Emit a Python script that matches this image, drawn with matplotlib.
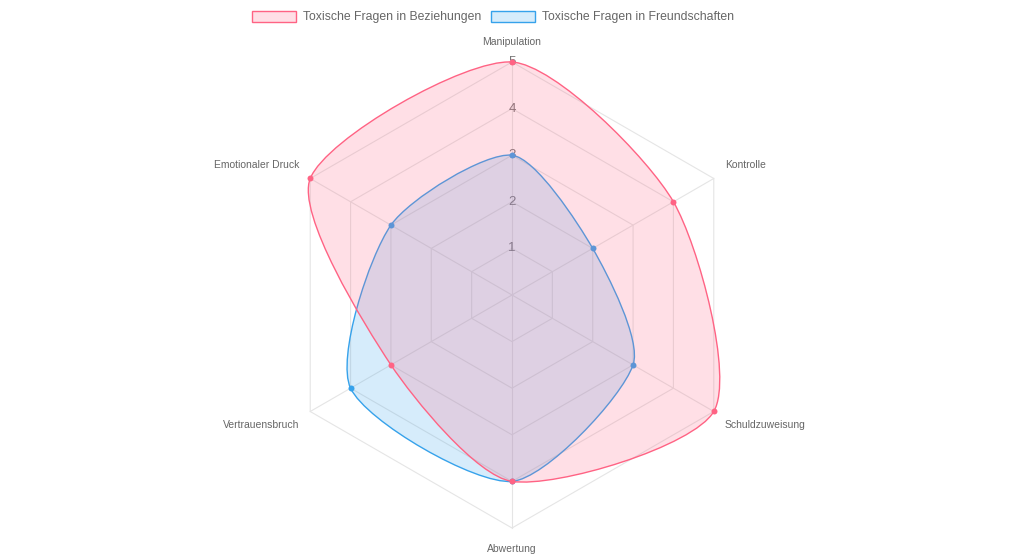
import numpy as np
import matplotlib
matplotlib.use("Agg")
import matplotlib.pyplot as plt
from matplotlib.path import Path
from matplotlib.patches import PathPatch, Patch

plt.rcParams['font.family'] = ['Liberation Sans', 'DejaVu Sans']

categories = ["Manipulation", "Kontrolle", "Schuldzuweisung", "Abwertung",
              "Vertrauensbruch", "Emotionaler Druck"]
beziehungen = [5, 4, 5, 4, 3, 5]
freundschaften = [3, 2, 3, 4, 4, 3]
ticks = [1, 2, 3, 4, 5]
series_names = ["Toxische Fragen in Beziehungen", "Toxische Fragen in Freundschaften"]

RED = (255/255, 99/255, 132/255)
BLUE = (54/255, 162/255, 235/255)
TEXT = "#666666"
GRID = "#e5e5e5"

n = len(categories)
angles = np.arange(n) * 2 * np.pi / n  # clockwise from top


def to_xy(vals):
    vals = np.asarray(vals, dtype=float)
    return np.column_stack([vals * np.sin(angles), vals * np.cos(angles)])


def spline_path(pts, t=0.25):
    # Chart.js style splineCurve on a closed loop
    m = len(pts)
    cp_prev, cp_next = [], []
    for i in range(m):
        p0, p1, p2 = pts[i - 1], pts[i], pts[(i + 1) % m]
        d01 = np.hypot(*(p1 - p0))
        d12 = np.hypot(*(p2 - p1))
        s01 = d01 / (d01 + d12)
        s12 = d12 / (d01 + d12)
        cp_prev.append(p1 - t * s01 * (p2 - p0))
        cp_next.append(p1 + t * s12 * (p2 - p0))
    verts = [pts[0]]
    codes = [Path.MOVETO]
    for i in range(m):
        j = (i + 1) % m
        verts += [cp_next[i], cp_prev[j], pts[j]]
        codes += [Path.CURVE4] * 3
    return Path(verts, codes)


fig = plt.figure(figsize=(10.24, 5.55), dpi=100)
ax = fig.add_axes([0, 0, 1, 1])
scale = 46.6  # pixels per unit
ax.set_xlim(-512 / scale, 512 / scale)
ax.set_ylim(-260 / scale, 295 / scale)
ax.set_aspect('equal')
ax.axis('off')

# grid hexagons and angle lines
for r in ticks:
    ring = to_xy([r] * n)
    ring = np.vstack([ring, ring[:1]])
    ax.plot(ring[:, 0], ring[:, 1], color=GRID, lw=0.8, zorder=1)
outer = to_xy([max(ticks)] * n)
for x, y in outer:
    ax.plot([0, x], [0, y], color=GRID, lw=0.8, zorder=1)

# tick labels
for r in ticks:
    ax.text(0, r, str(r), ha='center', va='center', fontsize=9.5,
            color="#777777", zorder=2)

# point labels
for ang, lab in zip(angles, categories):
    s, c = np.sin(ang), np.cos(ang)
    if abs(s) < 1e-6:
        ax.text(0, 5.3 * np.sign(c) + (0.02 if c > 0 else -0.05), lab, ha='center',
                va='bottom' if c > 0 else 'top', fontsize=7.5, color=TEXT)
    else:
        ax.text(5.27 * s, 5.27 * c + 0.15 * np.sign(c), lab,
                ha='left' if s > 0 else 'right', va='center',
                fontsize=7.5, color=TEXT)

# datasets: second drawn first so the first sits on top
for vals, col, z in [(freundschaften, BLUE, 3), (beziehungen, RED, 4)]:
    pts = to_xy(vals)
    path = spline_path(pts)
    ax.add_patch(PathPatch(path, facecolor=col + (0.2,), edgecolor='none', zorder=z))
    ax.add_patch(PathPatch(path, facecolor='none', edgecolor=col, lw=1.0, zorder=z))
    ax.plot(pts[:, 0], pts[:, 1], 'o', color=col, markersize=4.3,
            markeredgewidth=0, zorder=z + 0.5)

handles = [Patch(facecolor=RED + (0.2,), edgecolor=RED, lw=1.0),
           Patch(facecolor=BLUE + (0.2,), edgecolor=BLUE, lw=1.0)]
fig.legend(handles, series_names, loc='center', bbox_to_anchor=(493 / 1024, 1 - 17 / 555),
           ncol=2, frameon=False, fontsize=8.8, labelcolor=TEXT,
           handlelength=3.6, handleheight=1.0, handletextpad=0.6, columnspacing=0.8)

fig.savefig("out.png", dpi=100)
